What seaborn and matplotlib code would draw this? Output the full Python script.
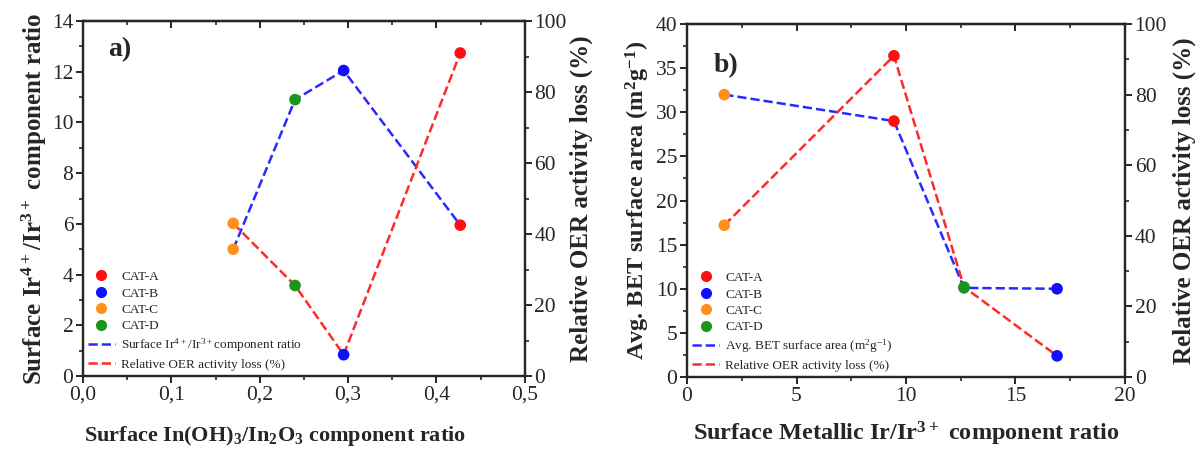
import matplotlib
matplotlib.use("Agg")
import matplotlib.pyplot as plt
import seaborn as sns
import pandas as pd
from matplotlib.lines import Line2D
from matplotlib.ticker import MultipleLocator, FuncFormatter

# ---- data ----
cats = ["CAT-A", "CAT-B", "CAT-C", "CAT-D"]
in_ratio = [0.427, 0.295, 0.170, 0.240]        # panel a x
ir_ratio = [5.95, 12.05, 5.0, 10.9]            # panel a left y
oer_loss = [91.0, 6.0, 43.0, 25.5]             # right y (both panels)
metal_ratio = [9.45, 16.9, 1.7, 12.65]         # panel b x
bet_area = [29.0, 10.0, 32.0, 10.1]            # panel b left y

cat_colors = {"CAT-A": "#ff1010", "CAT-B": "#1010ff", "CAT-C": "#ff9020", "CAT-D": "#1a961a"}
blue_line = "#2a2aff"
red_line = "#ff2a2a"

df = pd.DataFrame({"cat": cats, "in_ratio": in_ratio, "ir_ratio": ir_ratio,
                   "oer": oer_loss, "metal": metal_ratio, "bet": bet_area})

sns.set_style("ticks")
plt.rcParams["font.family"] = ["Liberation Serif", "DejaVu Serif"]
plt.rcParams["mathtext.default"] = "regular"
plt.rcParams["axes.linewidth"] = 1.6

fig = plt.figure(figsize=(11.98, 4.51), dpi=100)
axA = fig.add_axes([0.0693, 0.1663, 0.3687, 0.787])
axB = fig.add_axes([0.5735, 0.1640, 0.3655, 0.7828])

TCK = 15.5
LEG = 9.5
MS = 70

def style_axes(ax, ax2, xmaj, xmin, ymaj, ymin, xlim, ylim, fmt=None):
    ax.set_xlim(*xlim)
    ax.set_ylim(*ylim)
    ax2.set_ylim(0, 100)
    ax.xaxis.set_major_locator(MultipleLocator(xmaj))
    ax.xaxis.set_minor_locator(MultipleLocator(xmin))
    ax.yaxis.set_major_locator(MultipleLocator(ymaj))
    ax.yaxis.set_minor_locator(MultipleLocator(ymin))
    ax2.yaxis.set_major_locator(MultipleLocator(20))
    ax2.yaxis.set_minor_locator(MultipleLocator(10))
    if fmt is not None:
        ax.xaxis.set_major_formatter(fmt)
    for a in (ax, ax2):
        a.tick_params(which="major", direction="out", length=5, width=1.4, labelsize=TCK, pad=2)
        a.tick_params(which="minor", direction="out", length=3, width=1.2)
        for s in a.spines.values():
            s.set_visible(True)
            s.set_linewidth(1.6)
    sec = ax.secondary_xaxis("top")
    sec.xaxis.set_major_locator(MultipleLocator(xmaj))
    sec.xaxis.set_minor_locator(MultipleLocator(xmin))
    sec.tick_params(which="major", direction="in", length=5, width=1.4, labeltop=False)
    sec.tick_params(which="minor", direction="in", length=3, width=1.2)
    sec.spines["top"].set_linewidth(1.6)

def legend_handles(line1_label):
    h = [Line2D([], [], marker="o", linestyle="none", markersize=7,
                markerfacecolor=cat_colors[c], markeredgecolor=cat_colors[c], label=c) for c in cats]
    h.append(Line2D([], [], color=blue_line, linestyle="--", lw=1.8, label=line1_label))
    h.append(Line2D([], [], color=red_line, linestyle="--", lw=1.8, label="Relative OER activity loss (%)"))
    return h

def add_legend(ax, label):
    ax.legend(handles=legend_handles(label), loc="lower left", frameon=False,
              fontsize=LEG, handlelength=2.0, handletextpad=0.5,
              labelspacing=0.32, borderaxespad=0.2, borderpad=0.2,
              bbox_to_anchor=(0.0, 0.0))

# ---- panel a ----
axA2 = axA.twinx()
sns.lineplot(data=df, x="in_ratio", y="ir_ratio", ax=axA, color=blue_line,
             linestyle="--", lw=1.8, sort=True, legend=False)
sns.scatterplot(data=df, x="in_ratio", y="ir_ratio", hue="cat", palette=cat_colors,
                ax=axA, s=MS, edgecolor="none", legend=False, zorder=3)
sns.lineplot(data=df, x="in_ratio", y="oer", ax=axA2, color=red_line,
             linestyle="--", lw=1.8, sort=True, legend=False)
sns.scatterplot(data=df, x="in_ratio", y="oer", hue="cat", palette=cat_colors,
                ax=axA2, s=MS, edgecolor="none", legend=False, zorder=3)
comma = FuncFormatter(lambda v, p: f"{v:.1f}".replace(".", ","))
style_axes(axA, axA2, 0.1, 0.05, 2, 1, (0, 0.5), (0, 14), comma)
axA.set_xlabel("Surface In(OH)$_3$/In$_2$O$_3$ component ratio", fontsize=16,
               fontweight="bold")
axA.xaxis.set_label_coords(0.435, -0.135)
axA.set_ylabel("Surface Ir$^{4+}$/Ir$^{3+}$ component ratio", fontsize=18,
               fontweight="bold", labelpad=2)
axA2.set_ylabel("Relative OER activity loss (%)", fontsize=18, fontweight="bold", labelpad=2)
axA2.set_xlabel("")
axA.text(0.057, 0.9, "a)", transform=axA.transAxes, fontsize=20, fontweight="bold")
add_legend(axA2, "Surface Ir$^{4+}$/Ir$^{3+}$component ratio")

# ---- panel b ----
axB2 = axB.twinx()
sns.lineplot(data=df, x="metal", y="bet", ax=axB, color=blue_line,
             linestyle="--", lw=1.8, sort=True, legend=False)
sns.scatterplot(data=df, x="metal", y="bet", hue="cat", palette=cat_colors,
                ax=axB, s=MS, edgecolor="none", legend=False, zorder=3)
sns.lineplot(data=df, x="metal", y="oer", ax=axB2, color=red_line,
             linestyle="--", lw=1.8, sort=True, legend=False)
sns.scatterplot(data=df, x="metal", y="oer", hue="cat", palette=cat_colors,
                ax=axB2, s=MS, edgecolor="none", legend=False, zorder=3)
style_axes(axB, axB2, 5, 2.5, 5, 2.5, (0, 20), (0, 40))
axB.set_xlabel("Surface Metallic Ir/Ir$^{3+}$ component ratio", fontsize=17.5,
               fontweight="bold")
axB.xaxis.set_label_coords(0.5, -0.12)
axB.set_ylabel("Avg. BET surface area (m$^2$g$^{-1}$)", fontsize=17.5,
               fontweight="bold", labelpad=3)
axB2.set_ylabel("Relative OER activity loss (%)", fontsize=18, fontweight="bold", labelpad=4)
axB.text(0.06, 0.865, "b)", transform=axB.transAxes, fontsize=20, fontweight="bold")
add_legend(axB2, "Avg. BET surface area (m$^2$g$^{-1}$)")

fig.savefig("out.png", dpi=100)
